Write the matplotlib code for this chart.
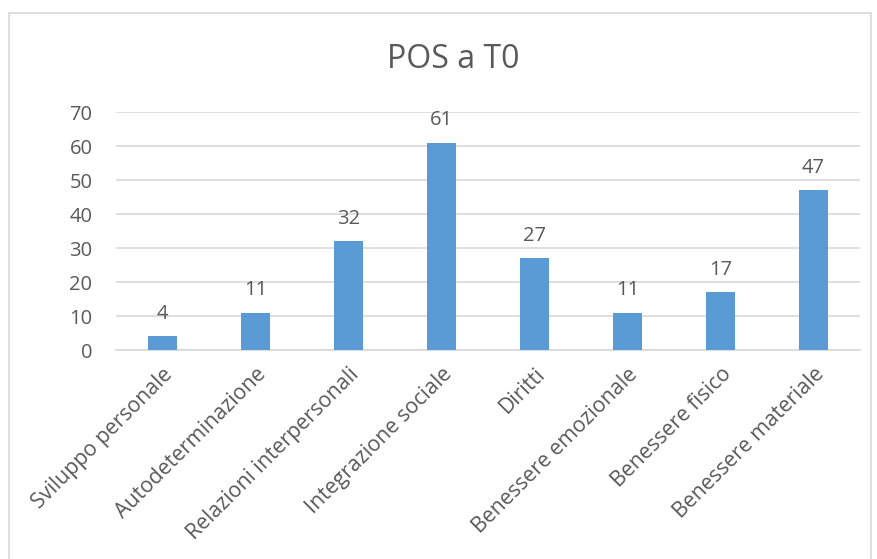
import matplotlib
matplotlib.use("Agg")
import matplotlib.pyplot as plt
from matplotlib.patches import Rectangle
from matplotlib.transforms import ScaledTranslation

categories = ["Sviluppo personale", "Autodeterminazione", "Relazioni interpersonali",
              "Integrazione sociale", "Diritti", "Benessere emozionale",
              "Benessere fisico", "Benessere materiale"]
values = [4, 11, 32, 61, 27, 11, 17, 47]
yticks = [0, 10, 20, 30, 40, 50, 60, 70]
title = "POS a T0"

plt.rcParams['font.family'] = ['Open Sans', 'DejaVu Sans']
txt = "#595959"

fig = plt.figure(figsize=(8.78, 5.59), dpi=100)
fig.patches.append(Rectangle((9/878, -0.05), (871-9)/878, (559-13)/559 + 0.05,
                             transform=fig.transFigure, fill=False,
                             edgecolor="#D9D9D9", linewidth=1.2))
ax = fig.add_axes([116/878, (559-350)/559, (860-116)/878, (350-112)/559])

x = list(range(len(categories)))
bars = ax.bar(x, values, width=0.31, color="#5B9BD5", zorder=3)
for xi, v in zip(x, values):
    ax.text(xi, v + 3.6, str(v), ha="center", va="bottom", fontsize=14.5, color=txt)

ax.set_xlim(-0.5, len(categories) - 0.5)
ax.set_ylim(0, 70)
ax.set_yticks(yticks)
ax.set_yticklabels([str(t) for t in yticks], fontsize=14.5, color=txt)
ax.set_xticks(x)
ax.set_xticklabels(categories, rotation=45, ha="right", rotation_mode="anchor",
                   fontsize=15.3, color=txt)
offset = ScaledTranslation(-4/100, 0, fig.dpi_scale_trans)
for lab in ax.get_xticklabels():
    lab.set_transform(lab.get_transform() + offset)
ax.tick_params(axis="both", length=0)
ax.tick_params(axis="y", pad=17)
ax.tick_params(axis="x", pad=10)
ax.yaxis.grid(True, color="#D9D9D9", linewidth=1.2, zorder=0)
for s in ["top", "right", "left"]:
    ax.spines[s].set_visible(False)
ax.spines["bottom"].set_color("#D9D9D9")
ax.spines["bottom"].set_linewidth(1.2)

fig.text(453/878, 1 - 60/559, title, ha="center", va="center", fontsize=23, color=txt)

fig.savefig("out.png", dpi=100)
